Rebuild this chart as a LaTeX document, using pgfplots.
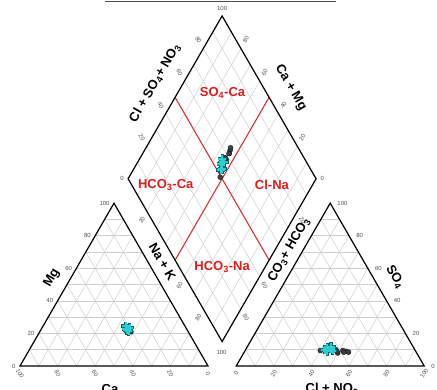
\documentclass[border=0pt]{standalone}
\usepackage{pgfplots}
\pgfplotsset{compat=1.18}
\usepackage{pgfplotstable}
\usepackage{fontspec}
\setmainfont{Liberation Sans}
\definecolor{gridc}{RGB}{205,205,205}
\definecolor{redc}{RGB}{218,30,30}
\definecolor{redl}{RGB}{212,55,55}
\definecolor{cyanf}{RGB}{45,205,210}
\definecolor{cyand}{RGB}{0,100,105}
\definecolor{tickc}{RGB}{80,80,80}
\newcommand\tk{\fontsize{6}{7}\selectfont}
\newcommand\lb{\fontsize{13}{15}\selectfont\bfseries}

% samples: NaK, Mg (percent of cations), Cl, SO4 (percent of anions)
\pgfplotstableread{
NaK  Mg   Cl   SO4
44.0 24.5 44.5 11.8
45.0 23.0 43.0 11.0
46.0 22.0 46.5 9.5
46.5 23.5 42.0 10.0
47.0 21.5 44.0 9.0
45.5 22.5 45.0 10.5
}\cyandata
\pgfplotstableread{
NaK  Mg   Cl   SO4
45.5 22.5 54.0 9.0
45.0 23.0 55.5 8.5
46.0 22.0 52.0 9.5
46.5 22.5 50.0 8.0
45.0 23.5 48.0 10.0
46.0 22.5 53.0 8.5
48.5 21.0 40.0 9.5
45.5 22.0 49.0 9.0
}\blackdata

\begin{document}
\begin{tikzpicture}
\begin{axis}[x=1.88pt,y=1.88pt,xmin=-10.638,xmax=221.81,ymin=-12.766,ymax=194.68,
  hide axis,clip=false]
% grids
\pgfplotsinvokeforeach{10,20,...,90}{
 \draw[gridc,line width=0.5pt] ({#1/2},{#1*0.8660254}) -- ({100-#1/2},{#1*0.8660254});
 \draw[gridc,line width=0.5pt] (#1,0) -- ({50+#1/2},{(100-#1)*0.8660254});
 \draw[gridc,line width=0.5pt] (#1,0) -- ({#1/2},{#1*0.8660254});
 \draw[gridc,line width=0.5pt] ({115+#1/2},{#1*0.8660254}) -- ({215-#1/2},{#1*0.8660254});
 \draw[gridc,line width=0.5pt] ({115+#1},0) -- ({165+#1/2},{(100-#1)*0.8660254});
 \draw[gridc,line width=0.5pt] ({115+#1},0) -- ({115+#1/2},{#1*0.8660254});
 \draw[gridc,line width=0.5pt] ({107.5-#1/2},{12.990381+#1*0.8660254}) -- ({157.5-#1/2},{99.593+#1*0.8660254});
 \draw[gridc,line width=0.5pt] ({107.5+#1/2},{12.990381+#1*0.8660254}) -- ({57.5+#1/2},{99.593+#1*0.8660254});
}
% red class lines
\draw[redl,line width=1.1pt] (82.5,56.292) -- (132.5,142.894);
\draw[redl,line width=1.1pt] (132.5,56.292) -- (82.5,142.894);
% outlines
\draw[black,line width=1.2pt,line join=miter] (0,0) -- (100,0) -- (50,86.60254) -- cycle;
\draw[black,line width=1.2pt,line join=miter] (115,0) -- (215,0) -- (165,86.60254) -- cycle;
\draw[black,line width=1.2pt,line join=miter] (107.5,12.990381) -- (157.5,99.593) -- (107.5,186.195) -- (57.5,99.593) -- cycle;
% top border fragment
\draw[black!70,line width=1pt] (45,193.9) -- (168,193.9);

% data: black circles
\pgfplotsset{blk/.style={only marks,mark=*,mark size=2.5pt,mark options={fill=black!75,draw=black!90,line width=0.4pt}},
  cyo/.style={only marks,mark=+,mark size=4.6pt,mark options={draw=cyand,line width=3.4pt}},
  cyi/.style={only marks,mark=+,mark size=3.9pt,mark options={draw=cyanf,line width=2pt}}}
\addplot[blk] table[x expr=\thisrow{NaK}+0.5*\thisrow{Mg}, y expr=0.8660254*\thisrow{Mg}] {\blackdata};
\addplot[blk] table[x expr=115+\thisrow{Cl}+0.5*\thisrow{SO4}, y expr=0.8660254*\thisrow{SO4}] {\blackdata};
\addplot[blk] table[x expr=107.5+0.5*(\thisrow{NaK}-100+\thisrow{Cl}+\thisrow{SO4}), y expr=12.990381+0.8660254*(100-\thisrow{NaK}+\thisrow{Cl}+\thisrow{SO4})] {\blackdata};
\addplot[cyo] table[x expr=\thisrow{NaK}+0.5*\thisrow{Mg}, y expr=0.8660254*\thisrow{Mg}] {\cyandata};
\addplot[cyi] table[x expr=\thisrow{NaK}+0.5*\thisrow{Mg}, y expr=0.8660254*\thisrow{Mg}] {\cyandata};
\addplot[cyo] table[x expr=115+\thisrow{Cl}+0.5*\thisrow{SO4}, y expr=0.8660254*\thisrow{SO4}] {\cyandata};
\addplot[cyi] table[x expr=115+\thisrow{Cl}+0.5*\thisrow{SO4}, y expr=0.8660254*\thisrow{SO4}] {\cyandata};
\addplot[cyo] table[x expr=107.5+0.5*(\thisrow{NaK}-100+\thisrow{Cl}+\thisrow{SO4}), y expr=12.990381+0.8660254*(100-\thisrow{NaK}+\thisrow{Cl}+\thisrow{SO4})] {\cyandata};
\addplot[cyi] table[x expr=107.5+0.5*(\thisrow{NaK}-100+\thisrow{Cl}+\thisrow{SO4}), y expr=12.990381+0.8660254*(100-\thisrow{NaK}+\thisrow{Cl}+\thisrow{SO4})] {\cyandata};

% tick labels: triangles
\foreach \t in {0,20,40,60,80,100}{
  \pgfmathsetmacro\xx{\t/2-2}\pgfmathsetmacro\yy{\t*0.8660254}
  \edef\tmp{\noexpand\node[anchor=east,inner sep=0.5pt,text=tickc,font=\noexpand\tk] at (axis cs:\xx,\yy) {\t};}\tmp
  \pgfmathtruncatemacro\v{100-\t}
  \edef\tmp{\noexpand\node[rotate=-60,inner sep=0pt,text=tickc,font=\noexpand\tk] at (axis cs:\t,-4) {\v};}\tmp
  \pgfmathsetmacro\xr{218.5-\t/2}
  \edef\tmp{\noexpand\node[anchor=west,inner sep=0.5pt,text=tickc,font=\noexpand\tk] at (axis cs:\xr,\yy) {\t};}\tmp
  \pgfmathsetmacro\xb{115+\t}
  \edef\tmp{\noexpand\node[rotate=60,inner sep=0pt,text=tickc,font=\noexpand\tk] at (axis cs:\xb,-4) {\t};}\tmp
}
% diamond tick labels
\foreach \t in {20,40,60,80}{
  \pgfmathsetmacro\xa{57.5+0.5*\t-2.65}\pgfmathsetmacro\ya{99.593+0.8660254*\t+4.6}
  \edef\tmp{\noexpand\node[rotate=-60,inner sep=0pt,text=tickc,font=\noexpand\tk] at (axis cs:\xa,\ya) {\t};}\tmp
  \pgfmathsetmacro\xa{157.5-0.5*\t+2.65}
  \edef\tmp{\noexpand\node[rotate=60,inner sep=0pt,text=tickc,font=\noexpand\tk] at (axis cs:\xa,\ya) {\t};}\tmp
}
\foreach \t in {20,60,80}{
  \pgfmathsetmacro\xa{57.5+0.5*\t-2.65}\pgfmathsetmacro\ya{99.593-0.8660254*\t-4.6}
  \edef\tmp{\noexpand\node[rotate=60,inner sep=0pt,text=tickc,font=\noexpand\tk] at (axis cs:\xa,\ya) {\t};}\tmp
  \pgfmathsetmacro\xa{157.5-0.5*\t+2.65}
  \edef\tmp{\noexpand\node[rotate=-60,inner sep=0pt,text=tickc,font=\noexpand\tk] at (axis cs:\xa,\ya) {\t};}\tmp
}
\node[anchor=east,inner sep=0.5pt,text=tickc,font=\tk] at (axis cs:55.5,99.593) {0};
\node[anchor=west,inner sep=0.5pt,text=tickc,font=\tk] at (axis cs:159.5,99.593) {0};
\node[anchor=south,inner sep=0.5pt,text=tickc,font=\tk] at (axis cs:107.5,188.5) {100};
\node[inner sep=0pt,text=tickc,font=\tk] at (axis cs:107.2,7) {100};

% axis titles
\node[rotate=60,font=\lb] at (axis cs:17,46.8) {Mg};
\node[font=\lb] at (axis cs:47.9,-12.4) {Ca};
\node[rotate=-60,font=\lb] at (axis cs:75.8,55.5) {Na + K};
\node[rotate=60,font=\lb] at (axis cs:71.8,150.5) {Cl + SO\textsubscript{4}+ NO\textsubscript{3}};
\node[rotate=-60,font=\lb] at (axis cs:144,147.9) {Ca + Mg};
\node[rotate=60,font=\lb] at (axis cs:143.1,61.7) {CO\textsubscript{3}+ HCO\textsubscript{3}};
\node[rotate=-60,font=\lb] at (axis cs:199.5,47.3) {SO\textsubscript{4}};
\node[font=\lb] at (axis cs:166,-12.4) {Cl + NO\textsubscript{3}};

% class labels
\node[text=redc,font=\lb] at (axis cs:107.7,145) {SO\textsubscript{4}-Ca};
\node[text=redc,font=\lb] at (axis cs:77.5,96.3) {HCO\textsubscript{3}-Ca};
\node[text=redc,font=\lb] at (axis cs:134,96.3) {Cl-Na};
\node[text=redc,font=\lb] at (axis cs:107.5,52.7) {HCO\textsubscript{3}-Na};
\end{axis}
\pgfresetboundingbox
\path[use as bounding box] (current axis.south west) rectangle (current axis.north east);
\end{tikzpicture}
\end{document}
